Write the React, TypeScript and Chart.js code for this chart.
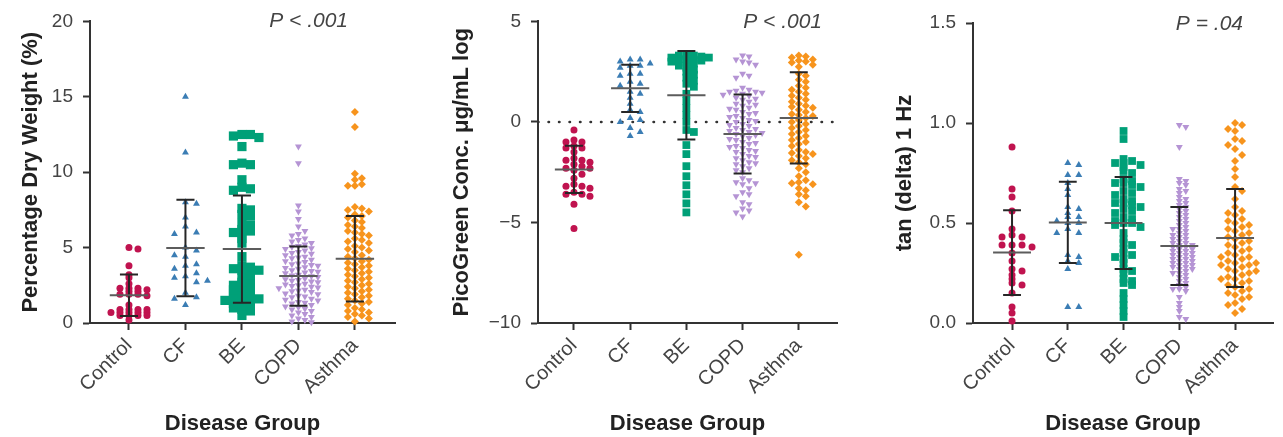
import React, { useEffect, useRef } from 'react';
import { Chart, registerables } from 'chart.js';

Chart.register(...registerables);

const FONT = "'Liberation Sans', Arial, Helvetica, sans-serif";

const categories = ['Control', 'CF', 'BE', 'COPD', 'Asthma'];

// ---------- Panel 1: Percentage Dry Weight (%) ----------
const dwTicks = [0, 5, 10, 15, 20];
const dwControl = [5.0, 4.9, 3.8, 3.2, 3.0, 2.6, 2.3, 2.3, 2.3, 2.2, 2.1, 2.1, 1.9, 1.9, 1.9, 1.8, 1.2, 0.9, 0.9, 0.9, 0.9, 0.7, 0.7, 0.7, 0.7, 0.7, 0.5, 0.5, 0.5, 0.5, 0.2];
const dwCF = [15.0, 11.3, 8.0, 7.9, 7.0, 6.4, 6.0, 5.9, 5.0, 4.8, 4.5, 4.4, 3.9, 3.8, 3.6, 3.3, 3.1, 3.0, 2.8, 2.7, 2.0, 1.7, 1.6, 1.2];
const dwBE = [12.5, 12.5, 12.4, 12.3, 11.7, 10.6, 10.5, 10.5, 9.5, 9.0, 8.9, 8.8, 7.6, 7.5, 7.2, 7.1, 6.6, 6.5, 6.2, 6.1, 6.0, 5.9, 5.6, 5.3, 4.4, 3.8, 3.7, 3.6, 3.5, 3.5, 3.4, 3.0, 2.9, 2.7, 2.6, 2.5, 2.4, 2.3, 2.2, 2.1, 2.0, 1.9, 1.8, 1.7, 1.6, 1.6, 1.5, 1.5, 1.4, 1.3, 1.2, 1.1, 1.0, 0.9, 0.8, 0.5];
const dwCOPD = [11.7, 10.6, 7.8, 7.4, 6.9,
  6.4, 6.1, 5.9, 5.8, 5.6, 5.5, 5.4, 5.3, 5.2, 5.1, 5.05,
  4.95, 4.9, 4.8, 4.7, 4.65, 4.6, 4.5, 4.4, 4.35, 4.3, 4.2, 4.1, 4.05,
  3.95, 3.9, 3.85, 3.8, 3.7, 3.65, 3.6, 3.5, 3.45, 3.4, 3.35, 3.3, 3.2, 3.15, 3.1, 3.05,
  2.95, 2.9, 2.85, 2.8, 2.75, 2.7, 2.6, 2.55, 2.5, 2.45, 2.4, 2.35, 2.3, 2.2, 2.15, 2.1, 2.05,
  1.95, 1.9, 1.8, 1.75, 1.7, 1.6, 1.55, 1.5, 1.4, 1.35, 1.3, 1.2, 1.1, 1.05,
  0.95, 0.9, 0.8, 0.7, 0.6, 0.5, 0.4, 0.3, 0.2, 0.1, 0.05];
const dwAsthma = [14.0, 13.0, 9.9, 9.6, 9.5, 9.2, 9.1, 9.1,
  7.7, 7.6, 7.5, 7.4, 7.2, 7.1, 7.0,
  6.8, 6.7, 6.5, 6.4, 6.3, 6.1, 6.0,
  5.9, 5.8, 5.6, 5.5, 5.4, 5.3, 5.1, 5.0,
  4.9, 4.8, 4.7, 4.5, 4.4, 4.3, 4.2, 4.1, 4.0,
  3.9, 3.8, 3.7, 3.6, 3.5, 3.4, 3.3, 3.2, 3.1, 3.0,
  2.9, 2.8, 2.7, 2.6, 2.5, 2.4, 2.3, 2.2, 2.1, 2.0,
  1.9, 1.8, 1.7, 1.6, 1.5, 1.4, 1.3, 1.2,
  1.0, 0.9, 0.8, 0.7, 0.6, 0.5, 0.4, 0.3, 0.1];
const dwMean = [1.84, 4.98, 4.9, 3.11, 4.26];
const dwSD = [1.38, 3.2, 3.56, 1.97, 2.83];

// ---------- Panel 2: PicoGreen Conc. (log) ----------
const pgTicks = [-10, -5, 0, 5];
const pgControl = [-0.4, -0.9, -1.0, -1.0, -1.2, -1.3, -1.3, -1.5, -1.8, -1.9, -1.9, -2.0, -2.1, -2.2, -2.3, -2.3, -2.4, -2.6, -2.8, -3.1, -3.2, -3.2, -3.3, -3.5, -3.6, -3.6, -3.7, -4.1, -5.3];
const pgCF = [3.1, 3.1, 3.0, 2.9, 2.8, 2.8, 2.7, 2.4, 2.4, 2.3, 2.0, 1.9, 1.8, 1.5, 1.4, 1.2, 0.9, 0.6, 0.5, 0.2, 0.1, 0.0, -0.3, -0.5, -0.7];
const pgBE = [3.35, 3.3, 3.3, 3.25, 3.2, 3.2, 3.15, 3.1, 3.1, 3.05, 3.0, 2.95, 2.9,
  2.8, 2.7, 2.6, 2.5, 2.35, 2.2, 2.05, 1.9,
  1.75, 1.4, 1.05, 0.7, 0.35, 0.0,
  -0.4, -0.5, -1.15, -1.6, -2.2, -2.7, -3.15, -3.6, -4.05, -4.5];
const pgCOPD = [3.3, 3.25, 3.1, 3.0, 2.95, 2.85, 2.4, 2.3, 2.2,
  1.7, 1.6, 1.55, 1.5, 1.5, 1.45, 1.4, 1.35, 1.3, 1.2, 1.15, 1.1, 1.0,
  0.9, 0.85, 0.8, 0.7, 0.65, 0.6, 0.5, 0.45, 0.4, 0.3, 0.25, 0.2, 0.1, 0.05, 0.0,
  -0.1, -0.15, -0.2, -0.3, -0.35, -0.4, -0.45, -0.5, -0.55, -0.6, -0.65, -0.7, -0.8, -0.85, -0.9, -1.0,
  -1.05, -1.1, -1.2, -1.25, -1.3, -1.4, -1.45, -1.5, -1.6, -1.7, -1.75, -1.8, -1.9, -2.0,
  -2.05, -2.1, -2.2, -2.3, -2.4, -2.5,
  -2.8, -2.9, -3.0, -3.05, -3.1, -3.3, -3.5, -3.6, -3.7,
  -4.0, -4.1, -4.3, -4.4, -4.5, -4.7];
const pgAsthma = [3.3, 3.25, 3.2, 3.1, 3.05, 3.0, 2.95, 2.85, 2.75,
  2.4, 2.3, 2.1, 2.0, 1.8, 1.7, 1.6, 1.5, 1.4, 1.3, 1.2, 1.1, 1.0,
  0.9, 0.8, 0.75, 0.7, 0.6, 0.5, 0.4, 0.35, 0.3, 0.2, 0.1, 0.0,
  -0.1, -0.2, -0.3, -0.4, -0.5, -0.6, -0.7, -0.8, -0.9, -1.0,
  -1.1, -1.2, -1.4, -1.5, -1.55, -1.6, -1.7, -1.8, -1.9, -2.0,
  -2.1, -2.3, -2.5, -2.7, -2.9, -3.0, -3.05, -3.1, -3.3, -3.4, -3.6, -3.7, -4.0, -4.2, -6.6];
const pgMean = [-2.36, 1.67, 1.33, -0.6, 0.2];
const pgSD = [1.18, 1.18, 2.2, 1.96, 2.27];

// ---------- Panel 3: tan (delta) 1 Hz ----------
const tdTicks = [0, 0.5, 1.0, 1.5];
const tdControl = [0.88, 0.67, 0.63, 0.56, 0.47, 0.44, 0.43, 0.43, 0.39, 0.39, 0.39, 0.38, 0.35, 0.31, 0.27, 0.26, 0.24, 0.22, 0.20, 0.19, 0.15, 0.08, 0.05, 0.01];
const tdCF = [0.80, 0.79, 0.74, 0.74, 0.70, 0.67, 0.64, 0.58, 0.57, 0.55, 0.53, 0.53, 0.51, 0.50, 0.50, 0.47, 0.45, 0.45, 0.34, 0.33, 0.31, 0.30, 0.27, 0.08, 0.08];
const tdBE = [0.96, 0.92,
  0.82, 0.81, 0.80, 0.80, 0.79, 0.78, 0.76, 0.75,
  0.72, 0.71, 0.70, 0.70, 0.69, 0.68, 0.66, 0.65, 0.64, 0.62,
  0.61, 0.60, 0.60, 0.59, 0.58, 0.57, 0.56, 0.55, 0.53, 0.52, 0.51, 0.50, 0.50, 0.49, 0.48,
  0.45, 0.42, 0.40, 0.39, 0.37, 0.35, 0.34, 0.33, 0.32, 0.30,
  0.27, 0.26, 0.25, 0.22, 0.21, 0.20, 0.19,
  0.15, 0.12, 0.09, 0.06, 0.03];
const tdCOPD = [0.99, 0.98, 0.88,
  0.72, 0.71, 0.70, 0.69, 0.67, 0.66, 0.65, 0.63, 0.62, 0.61, 0.60, 0.59, 0.58, 0.57, 0.56, 0.55, 0.54, 0.53, 0.52, 0.51,
  0.50, 0.49, 0.48, 0.47, 0.47, 0.46, 0.45, 0.44, 0.44, 0.43, 0.42, 0.42, 0.41, 0.40, 0.40, 0.39, 0.39, 0.38, 0.38, 0.37, 0.37,
  0.36, 0.36, 0.35, 0.35, 0.34, 0.34, 0.33, 0.33, 0.32, 0.32, 0.31, 0.31, 0.30, 0.30, 0.29, 0.29, 0.28, 0.28, 0.27, 0.27,
  0.26, 0.25, 0.25, 0.24, 0.23, 0.22, 0.21, 0.20, 0.19, 0.18, 0.17, 0.17, 0.16,
  0.13, 0.10, 0.08, 0.06, 0.03, 0.02];
const tdAsthma = [1.00, 0.99, 0.97, 0.96, 0.92, 0.91, 0.89, 0.87, 0.84, 0.81, 0.77, 0.73, 0.68, 0.66,
  0.62, 0.58, 0.56, 0.55, 0.54, 0.52, 0.51, 0.50, 0.49, 0.48, 0.47, 0.46, 0.45, 0.44, 0.43, 0.42, 0.41, 0.40,
  0.39, 0.38, 0.37, 0.36, 0.35, 0.34, 0.33, 0.33, 0.32, 0.31, 0.30, 0.30, 0.29, 0.29, 0.28, 0.27, 0.26, 0.26,
  0.25, 0.24, 0.23, 0.22, 0.22, 0.21, 0.20, 0.19, 0.18, 0.17, 0.16, 0.15, 0.14, 0.13, 0.12, 0.10, 0.09, 0.07, 0.05];
const tdMean = [0.352, 0.503, 0.5, 0.385, 0.425];
const tdSD = [0.212, 0.203, 0.23, 0.195, 0.245];

// ---------- styles ----------
const groupColors = ['#c0134f', '#3b7db4', '#00a078', '#b594d4', '#f7941d'];
const groupShapes = ['circle', 'triangle', 'rect', 'triangle', 'rectRot'];
const groupRotations = [0, 0, 0, 180, 0];

type Spec = {
  left: number; width: number; axisWidth: number; padTop: number; padRight: number;
  xMin: number; xMax: number; yMin: number; yMax: number; yTicks: number[];
  fmt: (v: number) => string; yTitle: string; yTitlePad: number;
  pLabel: string; pRight: number; pDy: number;
  groups: number[][]; means: number[]; sds: number[]; zero: boolean;
  radii: number[]; spacing: number[]; rowH: number[];
};

const panels: Spec[] = [
  {
    left: 0, width: 430, axisWidth: 90, padTop: 19, padRight: 35,
    xMin: -0.69, xMax: 4.71, yMin: 0, yMax: 20, yTicks: dwTicks,
    fmt: (v) => String(v), yTitle: 'Percentage Dry Weight (%)', yTitlePad: 18,
    pLabel: 'P < .001', pRight: 47, pDy: 0,
    groups: [dwControl, dwCF, dwBE, dwCOPD, dwAsthma], means: dwMean, sds: dwSD, zero: false,
    radii: [3.5, 4, 6.5, 4, 4], spacing: [9, 11, 8.5, 6.5, 7], rowH: [2.9, 8, 3.6, 5, 6],
  },
  {
    left: 430, width: 430, axisWidth: 108, padTop: 16, padRight: 23,
    xMin: -0.64, xMax: 4.68, yMin: -10, yMax: 5, yTicks: pgTicks,
    fmt: (v) => (v < 0 ? '\u2212' + Math.abs(v) : String(v)), yTitle: 'PicoGreen Conc. \u03bcg/mL log', yTitlePad: 19,
    pLabel: 'P < .001', pRight: 15, pDy: 1,
    groups: [pgControl, pgCF, pgBE, pgCOPD, pgAsthma], means: pgMean, sds: pgSD, zero: true,
    radii: [3.5, 4, 5.5, 4, 4], spacing: [8, 10, 7.5, 6.5, 7], rowH: [5, 6, 3.5, 5.5, 4.5],
  },
  {
    left: 860, width: 423, axisWidth: 113, padTop: 23, padRight: 10,
    xMin: -0.7, xMax: 4.68, yMin: 0, yMax: 1.5, yTicks: tdTicks,
    fmt: (v) => v.toFixed(1), yTitle: 'tan (delta) 1 Hz', yTitlePad: 32,
    pLabel: 'P = .04', pRight: 30, pDy: 1,
    groups: [tdControl, tdCF, tdBE, tdCOPD, tdAsthma], means: tdMean, sds: tdSD, zero: false,
    radii: [3.5, 4, 5.5, 4, 4], spacing: [10, 11, 8.5, 6.5, 7], rowH: [3, 4, 4, 3.5, 6.5],
  },
];

function swarm(values: number[], cat: number, xs: any, ys: any, d: number, h: number) {
  const cx = xs.getPixelForValue(cat);
  const order = values.map((_, i) => i).sort((a, b) => values[b] - values[a]);
  const placed: { dx: number; py: number }[] = [];
  const out: any[] = new Array(values.length);
  for (const i of order) {
    const py = ys.getPixelForValue(values[i]);
    let chosen = 0;
    for (let k = 0; k < 80; k++) {
      const step = k === 0 ? 0 : (k % 2 === 1 ? Math.ceil(k / 2) : -Math.ceil(k / 2));
      const dx = step * d;
      const clash = placed.some((p) => Math.abs(p.py - py) < h && Math.abs(p.dx - dx) < d - 0.01);
      if (!clash) { chosen = dx; break; }
    }
    placed.push({ dx: chosen, py });
    out[i] = { x: xs.getValueForPixel(cx + chosen), y: values[i] };
  }
  return out;
}

function Panel({ spec }: { spec: Spec }) {
  const ref = useRef<HTMLCanvasElement | null>(null);
  useEffect(() => {
    const canvas = ref.current;
    if (!canvas) return;
    const meanHalf = 0.34;
    const capHalf = 0.16;
    const meanData: any[] = [];
    const sdData: any[] = [];
    spec.means.forEach((m, i) => {
      const s = spec.sds[i];
      meanData.push({ x: i - meanHalf, y: m }, { x: i + meanHalf, y: m }, { x: i, y: null });
      sdData.push(
        { x: i, y: m - s }, { x: i, y: m + s }, { x: i, y: null },
        { x: i - capHalf, y: m + s }, { x: i + capHalf, y: m + s }, { x: i, y: null },
        { x: i - capHalf, y: m - s }, { x: i + capHalf, y: m - s }, { x: i, y: null },
      );
    });
    const datasets: any[] = [
      { label: 'mean', data: meanData, showLine: true, borderColor: '#5c5c5c', borderWidth: 2, pointRadius: 0, spanGaps: false, clip: false },
      { label: 'sd', data: sdData, showLine: true, borderColor: '#262626', borderWidth: 2, pointRadius: 0, spanGaps: false, clip: false },
    ];
    spec.groups.forEach((vals, gi) => {
      datasets.push({
        label: categories[gi],
        data: vals.map((v) => ({ x: gi, y: v })),
        showLine: false,
        pointStyle: groupShapes[gi],
        pointRotation: groupRotations[gi],
        pointRadius: spec.radii[gi],
        backgroundColor: groupColors[gi],
        borderColor: groupColors[gi],
        pointBorderWidth: 0,
        clip: false,
      });
    });
    if (spec.zero) {
      datasets.push({
        label: 'zero', data: [{ x: spec.xMin, y: 0 }, { x: spec.xMax, y: 0 }], showLine: true,
        borderColor: '#333', borderWidth: 2.5, borderDash: [0.5, 10], borderCapStyle: 'round', pointRadius: 0,
      });
    }
    const axisCommon = {
      grid: { display: true, drawOnChartArea: false, drawTicks: true, tickLength: 7, tickWidth: 2, tickColor: '#333' },
      border: { display: true, color: '#333', width: 2 },
    };
    const pPlugin = {
      id: 'pLabel',
      afterDraw(chart: any) {
        const { ctx, chartArea } = chart;
        ctx.save();
        ctx.font = `italic 21px ${FONT}`;
        ctx.fillStyle = '#444';
        ctx.textAlign = 'right';
        ctx.textBaseline = 'middle';
        ctx.fillText(spec.pLabel, chartArea.right - spec.pRight, chartArea.top + spec.pDy);
        ctx.restore();
      },
    };
    const chart = new Chart(canvas, {
      type: 'scatter',
      data: { datasets },
      options: {
        animation: false,
        responsive: false,
        maintainAspectRatio: false,
        devicePixelRatio: 1,
        events: [],
        layout: { padding: { left: 0, right: spec.padRight, top: spec.padTop, bottom: 0 } },
        plugins: { legend: { display: false }, tooltip: { enabled: false }, title: { display: false } },
        scales: {
          x: {
            type: 'linear', position: 'bottom', min: spec.xMin, max: spec.xMax,
            afterBuildTicks: (s: any) => { s.ticks = categories.map((_, i) => ({ value: i })); },
            afterFit: (s: any) => { s.height = 114; },
            ticks: {
              autoSkip: false, maxRotation: 45, minRotation: 45, padding: 4, color: '#444',
              font: { family: FONT, size: 20 },
              callback: (v: any) => categories[Math.round(Number(v))] ?? '',
            },
            title: { display: true, text: 'Disease Group', color: '#222', font: { family: FONT, size: 22, weight: 'bold' }, padding: { top: 0, bottom: 0 } },
            ...axisCommon,
          },
          y: {
            type: 'linear', position: 'left', min: spec.yMin, max: spec.yMax,
            afterBuildTicks: (s: any) => { s.ticks = spec.yTicks.map((v) => ({ value: v })); },
            afterFit: (s: any) => { s.width = spec.axisWidth; },
            ticks: { padding: 10, color: '#444', font: { family: FONT, size: 19 }, callback: (v: any) => spec.fmt(Number(v)) },
            title: { display: true, text: spec.yTitle, color: '#222', font: { family: FONT, size: 22, weight: 'bold' }, padding: { top: spec.yTitlePad, bottom: 0 } },
            ...axisCommon,
          },
        },
      } as any,
      plugins: [pPlugin],
    });
    const xs = chart.scales.x;
    const ys = chart.scales.y;
    spec.groups.forEach((vals, gi) => {
      chart.data.datasets[2 + gi].data = swarm(vals, gi, xs, ys, spec.spacing[gi], spec.rowH[gi]);
    });
    chart.update();
    return () => chart.destroy();
  }, [spec]);
  return (
    <canvas
      ref={ref}
      width={spec.width}
      height={437}
      style={{ position: 'absolute', left: spec.left, top: 0, width: spec.width, height: 437 }}
    />
  );
}

export default function App() {
  useEffect(() => {
    document.body.style.margin = '0';
    document.body.style.background = '#ffffff';
  }, []);
  return (
    <div style={{ position: 'relative', width: 1283, height: 437, background: '#fff', overflow: 'hidden' }}>
      {panels.map((p, i) => (
        <Panel key={i} spec={p} />
      ))}
    </div>
  );
}
